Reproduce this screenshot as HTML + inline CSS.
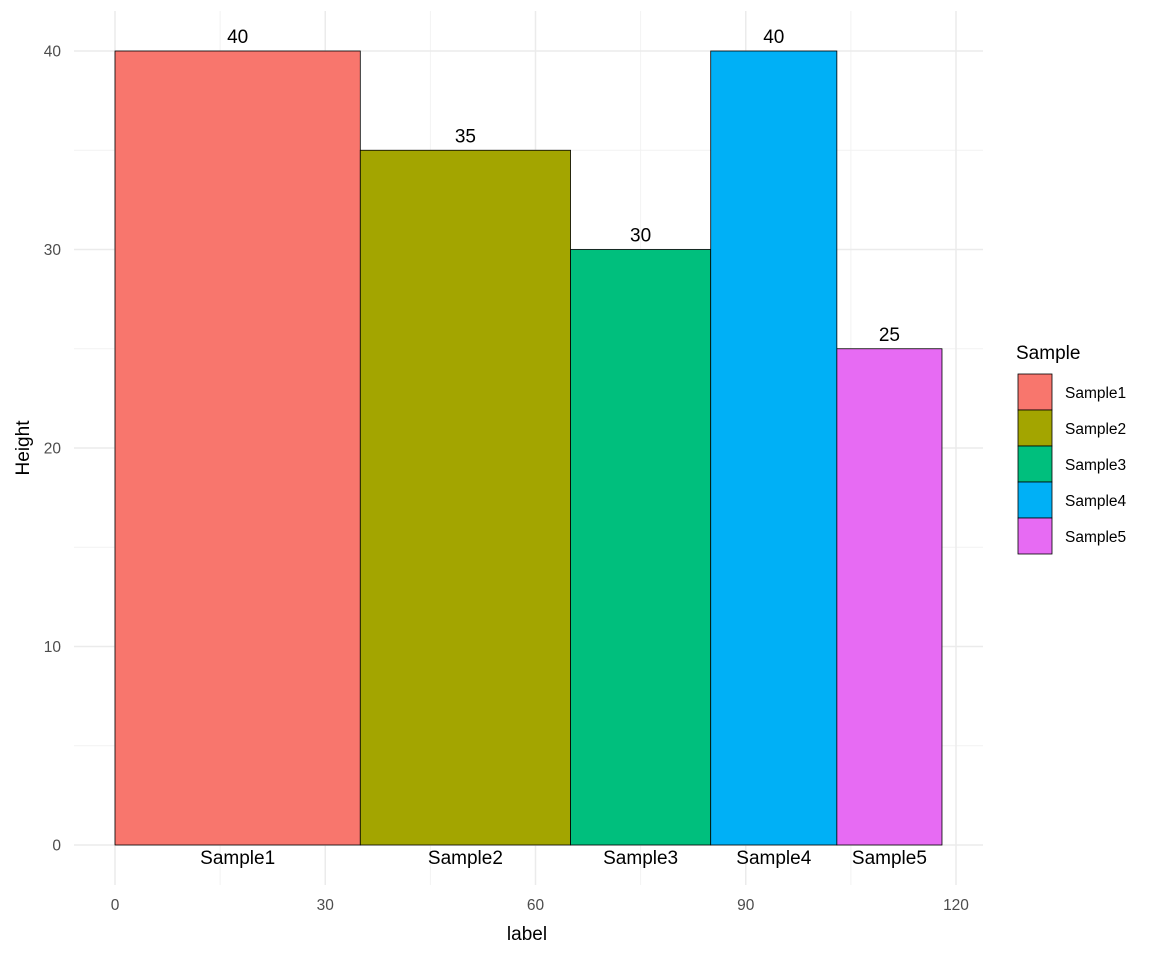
<!DOCTYPE html>
<html><head><meta charset="utf-8"><style>
body{margin:0;background:#fff;font-family:"Liberation Sans",Arial,sans-serif}
</style></head><body>
<svg id="chart" width="1164" height="955" xmlns="http://www.w3.org/2000/svg" font-family="Liberation Sans, Arial, sans-serif">
<g id="grid"></g>
<g id="bars"></g>
<g id="labels"></g>
<g id="axes"></g>
<text x="527" y="940" font-size="19" text-anchor="middle" fill="#000">label</text>
<text transform="translate(29,448) rotate(-90)" font-size="19" text-anchor="middle" fill="#000">Height</text>
<g id="legend">
<text x="1016" y="359" font-size="19" fill="#000">Sample</text>
</g>
</svg>
<script>
const categories=["Sample1","Sample2","Sample3","Sample4","Sample5"];
const widths=[35,30,20,18,15];
const heights=[40,35,30,40,25];
const colors=["#F8766D","#A3A500","#00BF7D","#00B0F6","#E76BF3"];
const xTicks=[0,30,60,90,120];
const yTicks=[0,10,20,30,40];
const NS="http://www.w3.org/2000/svg";
const X0=115,XS=841/120,Y0=845,YS=794/40;
const px=v=>X0+v*XS, py=v=>Y0-v*YS;
function mk(t,a,p,txt){const e=document.createElementNS(NS,t);for(const k in a)e.setAttribute(k,a[k]);if(txt!==undefined)e.textContent=txt;p.appendChild(e);return e;}
const g=document.getElementById('grid');
const L=74,R=983,T=11,B=885;
for(let i=0;i<xTicks.length-1;i++){const m=(xTicks[i]+xTicks[i+1])/2;const e=mk('line',{x1:px(m),x2:px(m),y1:T,y2:B,stroke:'#f2f2f2','stroke-width':1},g);}
for(let i=0;i<yTicks.length-1;i++){const m=(yTicks[i]+yTicks[i+1])/2;const e=mk('line',{x1:L,x2:R,y1:py(m),y2:py(m),stroke:'#f2f2f2','stroke-width':1},g);}
xTicks.forEach(t=>{const e=mk('line',{x1:px(t),x2:px(t),y1:T,y2:B,stroke:'#ebebeb','stroke-width':1.5},g);});
yTicks.forEach(t=>{const e=mk('line',{x1:L,x2:R,y1:py(t),y2:py(t),stroke:'#ebebeb','stroke-width':1.5},g);});
const bg=document.getElementById('bars'),lg=document.getElementById('labels'),ax=document.getElementById('axes'),leg=document.getElementById('legend');
let cum=0;
categories.forEach((c,i)=>{
 const x1=px(cum),x2=px(cum+widths[i]),cx=(x1+x2)/2;
 const r=mk('rect',{x:x1,y:py(heights[i]),width:x2-x1,height:py(0)-py(heights[i]),fill:colors[i],stroke:'#000','stroke-width':0.8},bg);
 
 
 const v=mk('text',{x:cx,y:py(heights[i])-8,'font-size':19,'text-anchor':'middle',fill:'#000'},lg,String(heights[i]));
 
 
 const n=mk('text',{x:cx,y:864,'font-size':19,'text-anchor':'middle',fill:'#000'},lg,c);
 
 
 cum+=widths[i];
 const k=mk('rect',{x:1018,y:374+i*36,width:34,height:36,fill:colors[i],stroke:'#000','stroke-width':0.8},leg);
 
 
 const lt=mk('text',{x:1065,y:398+i*36,'font-size':15.5,fill:'#000'},leg,c);
 
 
});
xTicks.forEach(t=>{const e=mk('text',{x:px(t),y:910,'font-size':15.5,'text-anchor':'middle',fill:'#4d4d4d'},ax,String(t));});
yTicks.forEach(t=>{const e=mk('text',{x:61,y:py(t)+5.5,'font-size':15.5,'text-anchor':'end',fill:'#4d4d4d'},ax,String(t));});
</script>
</body></html>
